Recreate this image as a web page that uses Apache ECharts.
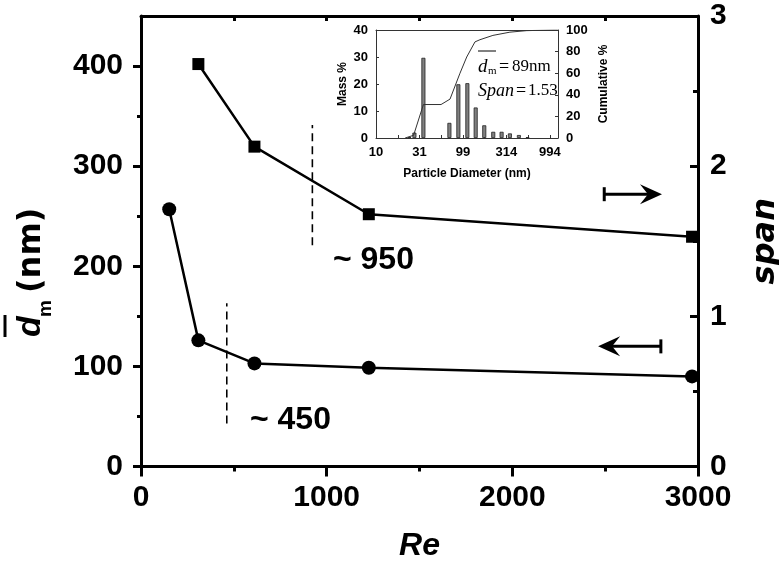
<!DOCTYPE html>
<html><head><meta charset="utf-8">
<script src="https://cdn.jsdelivr.net/npm/echarts@6/dist/echarts.min.js"></script>
<style>html,body{margin:0;padding:0;background:#fff}#c{width:779px;height:562px}</style>
</head><body><div id="c"></div>
<script>
// ---- main chart data ----
const reDm = [152, 309, 611, 1227, 2968];
const dmValues = [257, 126, 103, 98.6, 90];
const reSpan = [309, 611, 1227, 2968];
const spanValues = [2.68, 2.13, 1.68, 1.53];
// threshold dashed markers
const thresholdRe = [923, 462];
const thresholdLow = [221, 43];
const thresholdHigh = [341, 163];
const thresholdLabels = ['~ 950', '~ 450'];
const labelRe = [1034, 587];
const labelDm = [206, 46];
// axis-indicator arrows
const arrowTailRe = [2495, 2800];
const arrowTipRe = [2806, 2462];
const arrowDm = [272, 120];
// tick values
const dmTicks = [0, 100, 200, 300, 400];
const dmMinorTicks = [50, 150, 250, 350];
// ---- inset data ----
const insetDiam = [24.1, 27.5, 34.9, 69.5, 88.1, 111.8, 139.4, 175, 222, 277, 345, 438, 551];
const insetMass = [0.3, 2.0, 29.7, 5.6, 19.9, 20.3, 11.3, 4.7, 2.3, 2.3, 1.7, 1.1, 0.3];
const cumDiam = [21.5, 22.5, 26.9, 34.9, 55.7, 70.6, 92, 109.9, 136.8, 156, 220, 345, 536, 1074, 1230];
const cumPct = [0, 0.4, 2.5, 31, 31, 36, 60, 75, 89, 91, 95, 98, 99.4, 100, 100];
const insetTickDiam = [9.94, 31.4, 99.4, 314, 994];
const insetMinorTickDiam = [17.7, 55.9, 176.8, 559];
const insetTickLabels = ['10', '31', '99', '314', '994'];

const L = v => Math.log10(v);
const insetTickPos = insetTickDiam.map(L);
const insetAllTicks = insetTickDiam.concat(insetMinorTickDiam).map(L);

const BLK = '#000';
const FS = 'Liberation Sans';
const mainLine = {onZero: false, lineStyle: {color: BLK, width: 3}};
const tickStyle = {color: BLK, width: 3};
const labelStyle = {fontSize: 30, fontWeight: 'bold', color: BLK, fontFamily: FS, formatter: v => String(v)};
const insetLine = {onZero: false, lineStyle: {color: '#333', width: 1}};
const insetLabel = {fontSize: 13, fontWeight: 'bold', color: BLK, fontFamily: FS};
const insetName = {fontSize: 12, fontWeight: 'bold', color: BLK, fontFamily: FS};

const chart = echarts.init(document.getElementById('c'));
chart.setOption({
  animation: false,
  backgroundColor: '#fff',
  grid: [
    {left: 141, right: 81, top: 16, bottom: 95.5, containLabel: false, outerBoundsMode: 'none'},
    {left: 376, right: 221, top: 30, bottom: 424, containLabel: false, outerBoundsMode: 'none'}
  ],
  xAxis: [
    {gridIndex: 0, type: 'value', min: 0, max: 3000, interval: 1000, position: 'bottom',
      axisLine: mainLine,
      axisTick: {show: true, inside: false, length: 10, lineStyle: tickStyle},
      minorTick: {show: true, splitNumber: 2, length: 5, lineStyle: tickStyle},
      splitLine: {show: false}, minorSplitLine: {show: false},
      axisLabel: Object.assign({margin: 16}, labelStyle),
      name: 'Re', nameLocation: 'middle', nameGap: 64,
      nameTextStyle: {fontSize: 32, fontWeight: 'bold', fontStyle: 'italic', fontFamily: FS, color: BLK}},
    {gridIndex: 0, type: 'value', min: 0, max: 3000, interval: 500, position: 'top',
      axisLine: mainLine,
      axisTick: {show: true, inside: true, length: 5, lineStyle: tickStyle},
      axisLabel: {show: false}, splitLine: {show: false}},
    {gridIndex: 1, type: 'value', min: L(9.94), max: 3.0914, position: 'bottom',
      axisLine: insetLine,
      axisTick: {show: true, inside: true, length: 3, customValues: insetAllTicks, lineStyle: {color: '#333', width: 1}},
      axisLabel: Object.assign({}, insetLabel, {margin: 8, customValues: insetTickPos,
        formatter: v => {
          let best = 0;
          insetTickPos.forEach((p, i) => { if (Math.abs(p - v) < Math.abs(insetTickPos[best] - v)) best = i; });
          return insetTickLabels[best];
        }}),
      splitLine: {show: false},
      name: 'Particle Diameter (nm)', nameLocation: 'middle', nameGap: 30, nameTextStyle: insetName},
    {gridIndex: 1, type: 'value', min: L(9.94), max: 3.0914, position: 'top',
      axisLine: insetLine, axisTick: {show: false}, axisLabel: {show: false}, splitLine: {show: false}}
  ],
  yAxis: [
    {gridIndex: 0, type: 'value', min: 0, max: 450, interval: 100, position: 'left',
      axisLine: mainLine,
      axisTick: {show: true, inside: false, length: 8, customValues: dmTicks, lineStyle: tickStyle},
      axisLabel: Object.assign({margin: 18, customValues: dmTicks}, labelStyle),
      splitLine: {show: false}},
    {gridIndex: 0, type: 'value', min: 0, max: 3, interval: 1, position: 'right',
      axisLine: mainLine,
      axisTick: {show: true, inside: true, length: 8, lineStyle: tickStyle},
      minorTick: {show: true, splitNumber: 2, length: 5, lineStyle: tickStyle},
      axisLabel: Object.assign({margin: 12}, labelStyle),
      splitLine: {show: false}, minorSplitLine: {show: false},
      name: 'span', nameLocation: 'middle', nameRotate: 90, nameGap: 52,
      nameTextStyle: {fontSize: 32, fontWeight: 'bold', fontStyle: 'italic', fontFamily: 'DejaVu Sans', color: BLK}},
    {gridIndex: 0, type: 'value', min: 0, max: 450, position: 'left',
      axisLine: {show: false},
      axisTick: {show: true, inside: false, length: 4, customValues: dmMinorTicks, lineStyle: tickStyle},
      axisLabel: {show: false}, splitLine: {show: false}},
    {gridIndex: 1, type: 'value', min: 0, max: 40, interval: 10, position: 'left',
      axisLine: insetLine,
      axisTick: {show: true, inside: true, length: 3, lineStyle: {color: '#333', width: 1}},
      axisLabel: Object.assign({margin: 8}, insetLabel), splitLine: {show: false},
      name: 'Mass %', nameLocation: 'middle', nameRotate: 90, nameGap: 27, nameTextStyle: insetName},
    {gridIndex: 1, type: 'value', min: 0, max: 100, interval: 20, position: 'right',
      axisLine: insetLine,
      axisTick: {show: true, inside: true, length: 3, lineStyle: {color: '#333', width: 1}},
      axisLabel: Object.assign({margin: 8}, insetLabel), splitLine: {show: false},
      name: 'Cumulative %', nameLocation: 'middle', nameRotate: 90, nameGap: 40, nameTextStyle: insetName}
  ],
  series: [
    {type: 'line', xAxisIndex: 0, yAxisIndex: 0, data: reDm.map((x, i) => [x, dmValues[i]]),
      symbol: 'circle', symbolSize: 14, lineStyle: {color: BLK, width: 2.5}, itemStyle: {color: BLK}, z: 5},
    {type: 'line', xAxisIndex: 0, yAxisIndex: 1, data: reSpan.map((x, i) => [x, spanValues[i]]),
      symbol: 'rect', symbolSize: 12, lineStyle: {color: BLK, width: 2.5}, itemStyle: {color: BLK}, z: 5},
    ...thresholdRe.map((x, i) => ({type: 'line', xAxisIndex: 0, yAxisIndex: 0,
      data: [[x, thresholdLow[i]], [x, thresholdHigh[i]]], symbol: 'none',
      lineStyle: {color: BLK, width: 1.6, type: [8, 5]}})),
    {type: 'custom', xAxisIndex: 0, yAxisIndex: 0,
      data: labelRe.map((x, i) => [x, labelDm[i], i]),
      renderItem: (params, api) => {
        const p = api.coord([api.value(0), api.value(1)]);
        return {type: 'text', x: p[0], y: p[1], style: {text: thresholdLabels[api.value(2)],
          fontSize: 32, fontWeight: 'bold', fontFamily: FS, fill: BLK, align: 'left', verticalAlign: 'middle'}};
      }},
    {type: 'custom', xAxisIndex: 0, yAxisIndex: 0,
      data: arrowTailRe.map((x, i) => [x, arrowTipRe[i], arrowDm[i]]),
      renderItem: (params, api) => {
        const tail = api.coord([api.value(0), api.value(2)]);
        const tip = api.coord([api.value(1), api.value(2)]);
        const d = Math.sign(tip[0] - tail[0]);
        return {type: 'group', children: [
          {type: 'line', shape: {x1: tail[0], y1: tail[1], x2: tip[0] - d * 10, y2: tip[1]}, style: {stroke: BLK, lineWidth: 3}},
          {type: 'line', shape: {x1: tail[0], y1: tail[1] - 7, x2: tail[0], y2: tail[1] + 7}, style: {stroke: BLK, lineWidth: 3}},
          {type: 'polygon', shape: {points: [[tip[0], tip[1]], [tip[0] - d * 22, tip[1] - 10], [tip[0] - d * 14, tip[1]], [tip[0] - d * 22, tip[1] + 10]]}, style: {fill: BLK}}
        ]};
      }},
    {type: 'bar', xAxisIndex: 2, yAxisIndex: 3, data: insetDiam.map((d, i) => [L(d), insetMass[i]]),
      barWidth: 4, itemStyle: {color: '#808080', borderColor: '#222', borderWidth: 0.8}},
    {type: 'line', xAxisIndex: 2, yAxisIndex: 4, data: cumDiam.map((d, i) => [L(d), cumPct[i]]),
      symbol: 'none', lineStyle: {color: '#333', width: 1}}
  ],
  graphic: {elements: [
    {type: 'group', x: 29, y: 270, rotation: Math.PI / 2, children: [
      {type: 'text', x: -67, y: 2, style: {text: 'd', fontSize: 34, fontWeight: 'bold', fontStyle: 'italic', fontFamily: FS, fill: BLK, align: 'left', verticalAlign: 'middle'}},
      {type: 'text', x: -47, y: 17, style: {text: 'm', fontSize: 19, fontWeight: 'bold', fontFamily: FS, fill: BLK, align: 'left', verticalAlign: 'middle'}},
      {type: 'text', x: -23, y: 3, style: {text: '(nm)', fontSize: 32, fontWeight: 'bold', fontFamily: 'DejaVu Sans', fill: BLK, align: 'left', verticalAlign: 'middle'}},
      {type: 'line', shape: {x1: -67, y1: -24, x2: -45, y2: -24}, style: {stroke: BLK, lineWidth: 3}}
    ]},
    {type: 'text', x: 478, y: 67, style: {text: 'd', fontSize: 19, fontStyle: 'italic', fontFamily: 'Liberation Serif', fill: BLK, verticalAlign: 'middle'}},
    {type: 'text', x: 488, y: 71, style: {text: 'm', fontSize: 11, fontFamily: 'Liberation Serif', fill: BLK, verticalAlign: 'middle'}},
    {type: 'text', x: 499, y: 67, style: {text: '=', fontSize: 18, fontFamily: 'Liberation Serif', fill: BLK, verticalAlign: 'middle'}},
    {type: 'text', x: 512, y: 67, style: {text: '89nm', fontSize: 17, fontFamily: 'Liberation Serif', fill: BLK, verticalAlign: 'middle'}},
    {type: 'line', shape: {x1: 478, y1: 51, x2: 496, y2: 51}, style: {stroke: BLK, lineWidth: 1}},
    {type: 'text', x: 478, y: 91, style: {text: 'Span', fontSize: 18, fontStyle: 'italic', fontFamily: 'Liberation Serif', fill: BLK, verticalAlign: 'middle'}},
    {type: 'text', x: 516, y: 91, style: {text: '=', fontSize: 18, fontFamily: 'Liberation Serif', fill: BLK, verticalAlign: 'middle'}},
    {type: 'text', x: 528, y: 91, style: {text: '1.53', fontSize: 17, fontFamily: 'Liberation Serif', fill: BLK, verticalAlign: 'middle'}}
  ]}
});
</script></body></html>
